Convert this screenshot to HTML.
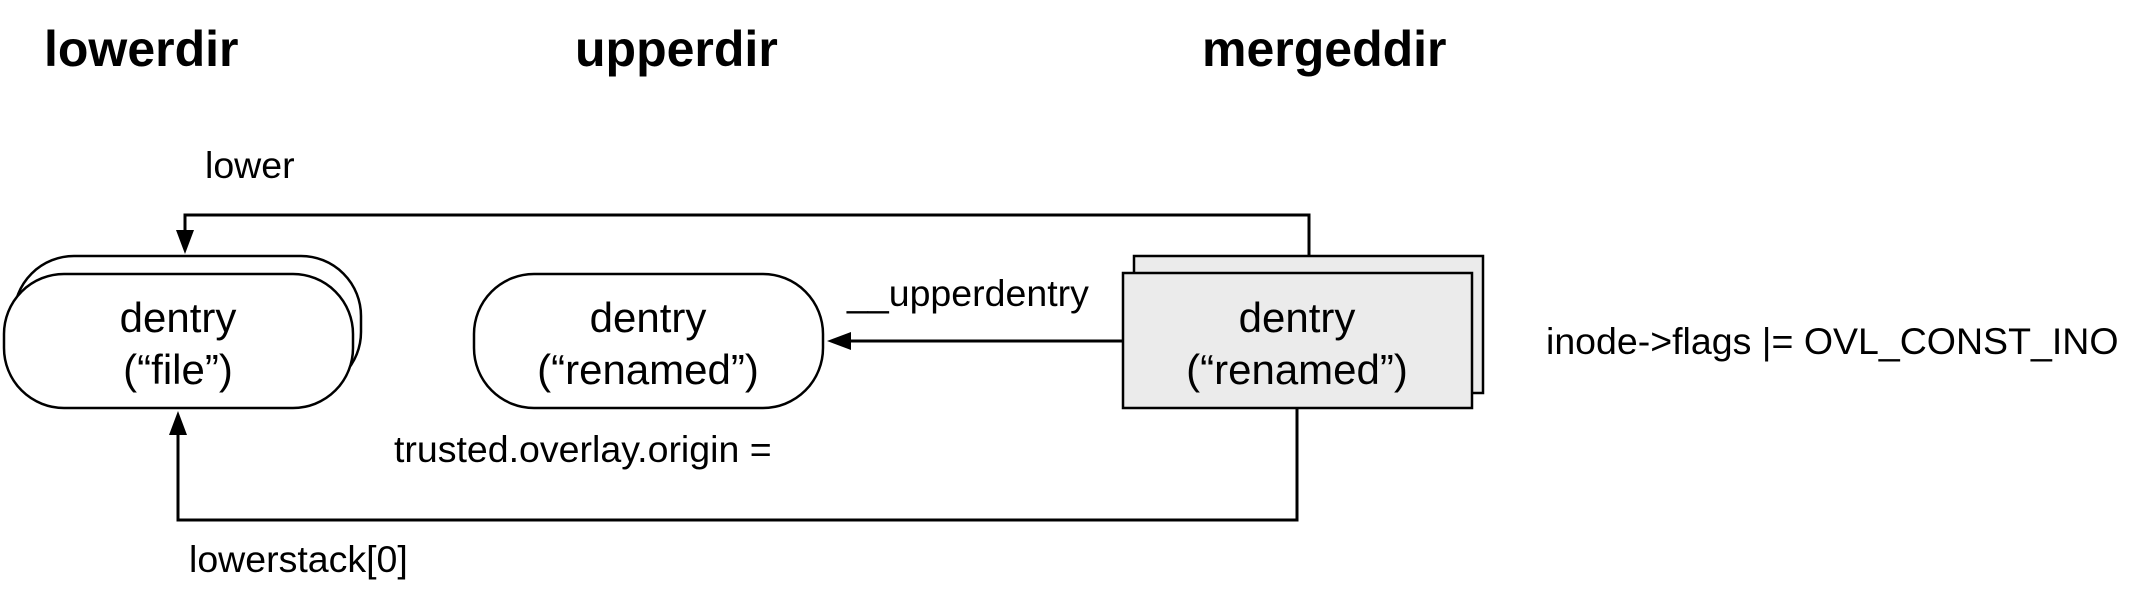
<!DOCTYPE html>
<html><head><meta charset="utf-8"><style>
html,body{margin:0;padding:0;background:#fff;}
svg{display:block;}
text{font-family:"Liberation Sans",sans-serif;fill:#000;}
</style></head><body>
<svg width="2147" height="597" viewBox="0 0 2147 597" xmlns="http://www.w3.org/2000/svg">
<defs>
<marker id="ah" markerWidth="24" markerHeight="18" refX="2" refY="9" orient="auto" markerUnits="userSpaceOnUse" viewBox="0 0 24 18">
<path d="M0,0 L24,9 L0,18 z" fill="#000"/>
</marker>
</defs>
<g font-weight="bold" font-size="50">
<text x="44" y="66">lowerdir</text>
<text x="575" y="66">upperdir</text>
<text x="1202" y="66">mergeddir</text>
</g>
<rect x="14" y="256" width="347" height="136" rx="60" fill="#fff" stroke="#000" stroke-width="2.5"/>
<rect x="4" y="274" width="349" height="134" rx="60" fill="#fff" stroke="#000" stroke-width="2.5"/>
<rect x="474" y="274" width="349" height="134" rx="60" fill="#fff" stroke="#000" stroke-width="2.5"/>
<rect x="1134" y="256" width="349" height="137" fill="#ebebeb" stroke="#000" stroke-width="2.5"/>
<rect x="1123" y="273" width="349" height="135" fill="#ebebeb" stroke="#000" stroke-width="2.5"/>
<g font-size="42" text-anchor="middle">
<text x="178" y="332">dentry</text>
<text x="178" y="384">(“file”)</text>
<text x="648" y="332">dentry</text>
<text x="648" y="384">(“renamed”)</text>
<text x="1297" y="332">dentry</text>
<text x="1297" y="384">(“renamed”)</text>
</g>
<g fill="none" stroke="#000" stroke-width="3">
<path d="M1309,256 V215 H185 V232" marker-end="url(#ah)"/>
<path d="M1123,341 H849" marker-end="url(#ah)"/>
<path d="M1297,408 V520 H178 V433" marker-end="url(#ah)"/>
</g>
<g font-size="37.5">
<text x="205" y="178">lower</text>
<text x="847" y="306">__upperdentry</text>
<text x="394" y="462">trusted.overlay.origin =</text>
<text x="189" y="572">lowerstack[0]</text>
<text x="1546" y="354">inode-&gt;flags |= OVL_CONST_INO</text>
</g>
</svg>
</body></html>
